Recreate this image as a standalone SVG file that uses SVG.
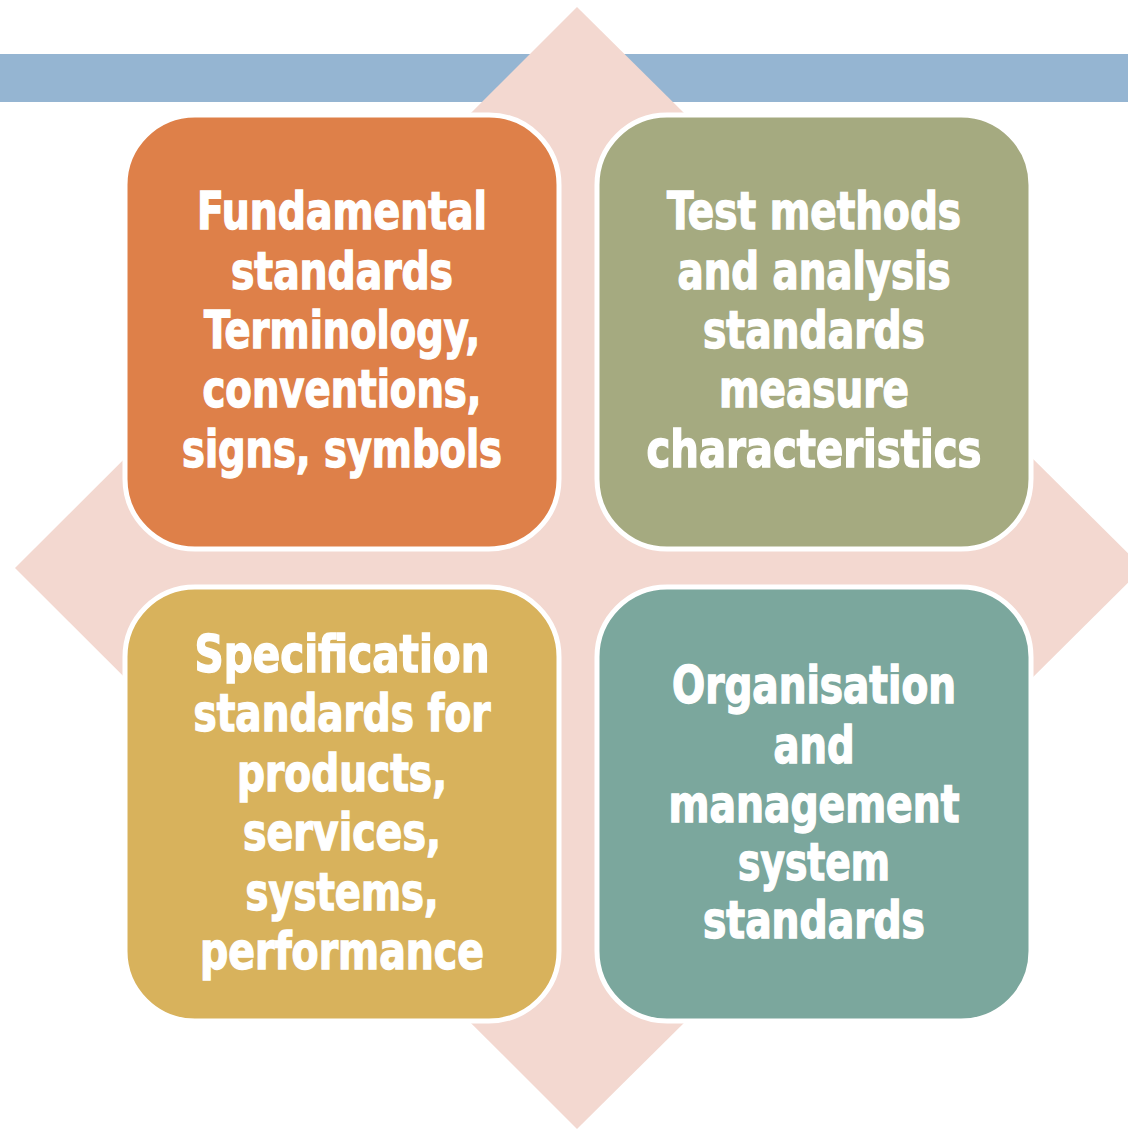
<svg xmlns="http://www.w3.org/2000/svg" width="1128" height="1129" viewBox="0 0 1128 1129">
<style>
.box{stroke:#ffffff;stroke-width:5}
.t{font-family:"DejaVu Sans Condensed","DejaVu Sans","Liberation Sans",sans-serif;font-weight:bold;font-size:52px;fill:#ffffff;stroke:#ffffff;stroke-width:1.4;text-anchor:middle}
</style>
<rect x="0" y="0" width="1128" height="1129" fill="#ffffff"/>
<rect id="bar" x="0" y="54" width="1128" height="48" fill="#95B5D2"/>
<polygon id="diamond" points="577,7 1143,568 577,1129 15,568" fill="#F3D8D0"/>
<g id="node-fundamental">
<rect class="box" x="125" y="115" width="434" height="434" rx="70" fill="#DE8049"/>
<text class="t" x="342" y="229" textLength="290" lengthAdjust="spacingAndGlyphs">Fundamental</text>
<text class="t" x="342" y="289" textLength="222" lengthAdjust="spacingAndGlyphs">standards</text>
<text class="t" x="342" y="348" textLength="276" lengthAdjust="spacingAndGlyphs">Terminology,</text>
<text class="t" x="342" y="407" textLength="279" lengthAdjust="spacingAndGlyphs">conventions,</text>
<text class="t" x="342" y="467" textLength="320" lengthAdjust="spacingAndGlyphs">signs, symbols</text>
</g>
<g id="node-test">
<rect class="box" x="597" y="115" width="434" height="434" rx="70" fill="#A5AA80"/>
<text class="t" x="814" y="229" textLength="294" lengthAdjust="spacingAndGlyphs">Test methods</text>
<text class="t" x="814" y="289" textLength="273" lengthAdjust="spacingAndGlyphs">and analysis</text>
<text class="t" x="814" y="348" textLength="222" lengthAdjust="spacingAndGlyphs">standards</text>
<text class="t" x="814" y="407" textLength="190" lengthAdjust="spacingAndGlyphs">measure</text>
<text class="t" x="814" y="467" textLength="335" lengthAdjust="spacingAndGlyphs">characteristics</text>
</g>
<g id="node-specification">
<rect class="box" x="125" y="587" width="434" height="434" rx="70" fill="#D8B25C"/>
<text class="t" x="342" y="672" textLength="295" lengthAdjust="spacingAndGlyphs">Specification</text>
<text class="t" x="342" y="731" textLength="297" lengthAdjust="spacingAndGlyphs">standards for</text>
<text class="t" x="342" y="791" textLength="210" lengthAdjust="spacingAndGlyphs">products,</text>
<text class="t" x="342" y="850" textLength="198" lengthAdjust="spacingAndGlyphs">services,</text>
<text class="t" x="342" y="910" textLength="193" lengthAdjust="spacingAndGlyphs">systems,</text>
<text class="t" x="342" y="969" textLength="284" lengthAdjust="spacingAndGlyphs">performance</text>
</g>
<g id="node-organisation">
<rect class="box" x="597" y="587" width="434" height="434" rx="70" fill="#7BA79D"/>
<text class="t" x="814" y="703" textLength="284" lengthAdjust="spacingAndGlyphs">Organisation</text>
<text class="t" x="814" y="763" textLength="81" lengthAdjust="spacingAndGlyphs">and</text>
<text class="t" x="814" y="822" textLength="291" lengthAdjust="spacingAndGlyphs">management</text>
<text class="t" x="814" y="880" textLength="152" lengthAdjust="spacingAndGlyphs">system</text>
<text class="t" x="814" y="938" textLength="222" lengthAdjust="spacingAndGlyphs">standards</text>
</g>
<g id="connectors"></g>
</svg>
